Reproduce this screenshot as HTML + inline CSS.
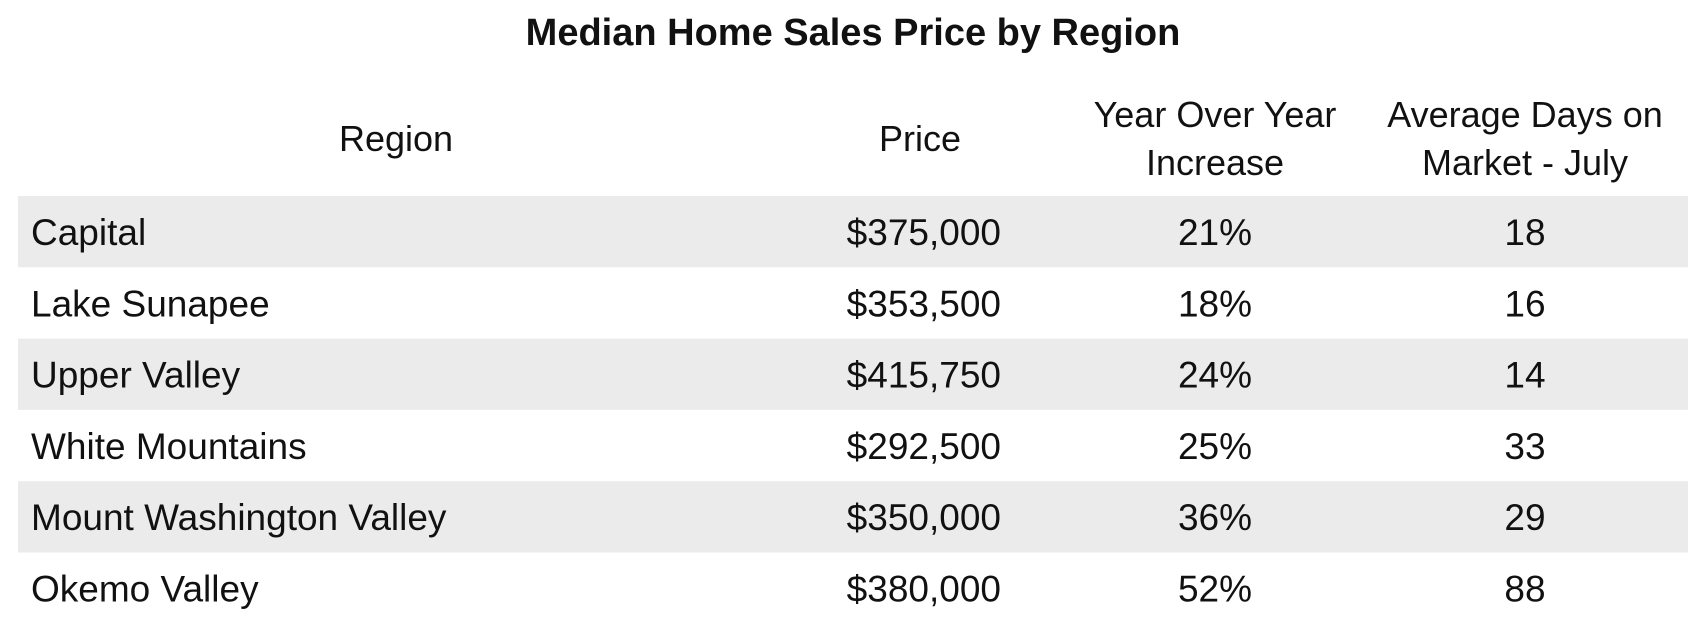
<!DOCTYPE html>
<html><head><meta charset="utf-8"><style>
html,body{margin:0;padding:0;background:#fff;width:1706px;height:639px;overflow:hidden}
svg{display:block}
text{font-family:"Liberation Sans",Arial,sans-serif;fill:#111}
</style></head><body>
<svg id="tbl" width="1706" height="639" viewBox="0 0 1706 639" xmlns="http://www.w3.org/2000/svg">
<text x="853" y="45" text-anchor="middle" font-size="38" font-weight="bold">Median Home Sales Price by Region</text>
<text x="396" y="151" text-anchor="middle" font-size="36">Region</text>
<text x="920" y="151" text-anchor="middle" font-size="36">Price</text>
<text x="1215" y="127" text-anchor="middle" font-size="36">Year Over Year</text>
<text x="1215" y="175" text-anchor="middle" font-size="36">Increase</text>
<text x="1525" y="127" text-anchor="middle" font-size="36">Average Days on</text>
<text x="1525" y="175" text-anchor="middle" font-size="36">Market - July</text>
<g id="rows"></g>
</svg>
<script>
const regions=["Capital","Lake Sunapee","Upper Valley","White Mountains","Mount Washington Valley","Okemo Valley"];
const prices=["$375,000","$353,500","$415,750","$292,500","$350,000","$380,000"];
const yoy=["21%","18%","24%","25%","36%","52%"];
const days=["18","16","14","33","29","88"];
const NS="http://www.w3.org/2000/svg";
const g=document.getElementById('rows');
const top0=196,rh=71.3;
function txt(x,y,s,anchor,name){
  const t=document.createElementNS(NS,'text');
  t.setAttribute('x',x);t.setAttribute('y',y);
  t.setAttribute('font-size','37');
  t.setAttribute('text-anchor',anchor);
  t.textContent=s;
  
  
  g.appendChild(t);
}
regions.forEach((r,i)=>{
  const y=top0+i*rh;
  if(i%2===0){
    const b=document.createElementNS(NS,'rect');
    b.setAttribute('x',18);b.setAttribute('y',y);b.setAttribute('width',1670);b.setAttribute('height',rh);
    b.setAttribute('fill','#ebebeb');
    
    
    g.appendChild(b);
  }
  const by=y+49;
  txt(31,by,r,'start','region-cell');
  txt(1001,by,prices[i],'end','price-cell');
  txt(1215,by,yoy[i],'middle','yoy-cell');
  txt(1525,by,days[i],'middle','days-cell');
});
</script>
</body></html>
